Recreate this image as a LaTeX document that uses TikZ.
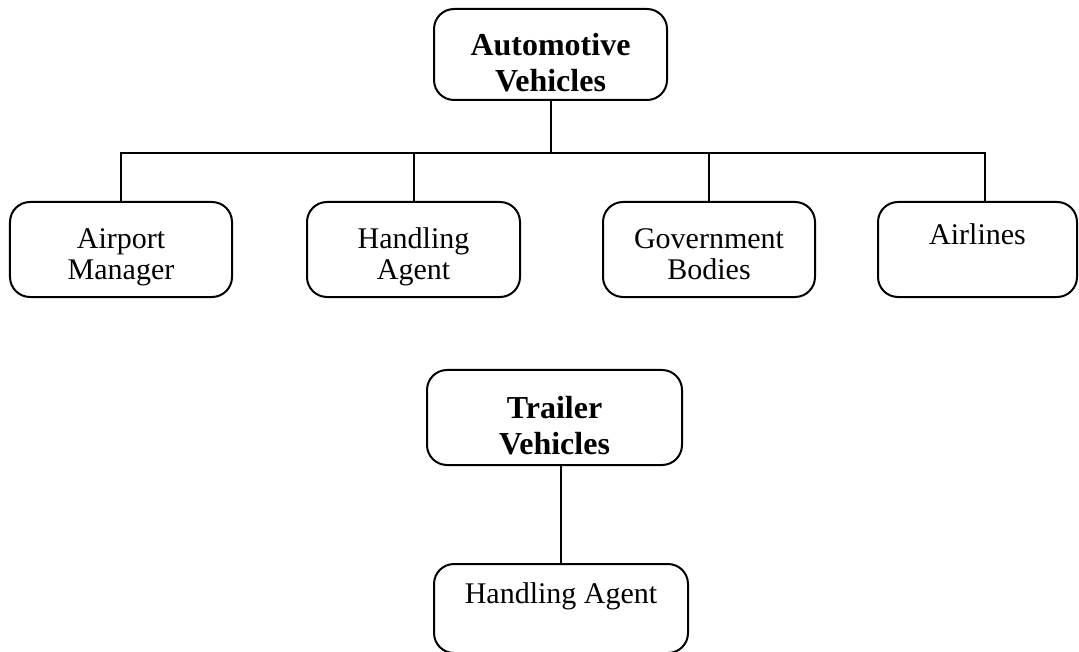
\documentclass[tikz,border=0pt]{standalone}
\usepackage{fontspec}
\setmainfont{Liberation Serif}
\usetikzlibrary{positioning}

\tikzset{
  unit/.style={draw, rounded corners=8pt, align=center, inner sep=0pt, line width=0.8pt,
    text depth=0pt, font=\fontsize{12}{12.4}\selectfont},
  twoline/.style={text height=23.7pt},
  head/.style={unit, text height=29.7pt, font=\fontsize{12.8}{14.6}\selectfont\bfseries},
}

\begin{document}
\begin{tikzpicture}[x=0.4pt, y=-0.4pt, line width=0.8pt]

\useasboundingbox (0,0) rectangle (1079,652);

\node[head, minimum width=93.2pt, minimum height=36.4pt] (head_1) at (550.5,54.5) {Automotive \\ Vehicles};
\node[unit, twoline, minimum width=88.8pt, minimum height=38pt] (user_11) at (121,249.5) {Airport \\ Manager};
\node[unit, twoline, minimum width=85.2pt, minimum height=38pt] (user_12) at (413.5,249.5) {Handling \\ Agent};
\node[unit, twoline, minimum width=84.8pt, minimum height=38pt] (user_13) at (709,249.5) {Government \\ Bodies};
\node[unit, minimum width=79.6pt, minimum height=38pt] (user_14) at (977.5,249.5) {Airlines \\ ~};
\node[head, minimum width=102pt, minimum height=38pt] (head_2) at (554.5,417.5) {Trailer \\ Vehicles};
\node[unit, minimum width=101.6pt, minimum height=35.6pt] (user_21) [below=38.8pt of head_2, xshift=2.6pt] {Handling Agent \\ ~};

\coordinate (bar) at (0,153);
\coordinate (drop_4) at ([xshift=3pt]user_14.north);

\draw (head_1.south) -- (head_1.south |- bar);
\draw (user_11.north) -- (user_11.north |- bar) -- (drop_4 |- bar) -- (drop_4);
\draw (user_12.north) -- (user_12.north |- bar);
\draw (user_13.north) -- (user_13.north |- bar);
\draw (user_21.north) -- (user_21.north |- head_2.south);

\end{tikzpicture}
\end{document}
